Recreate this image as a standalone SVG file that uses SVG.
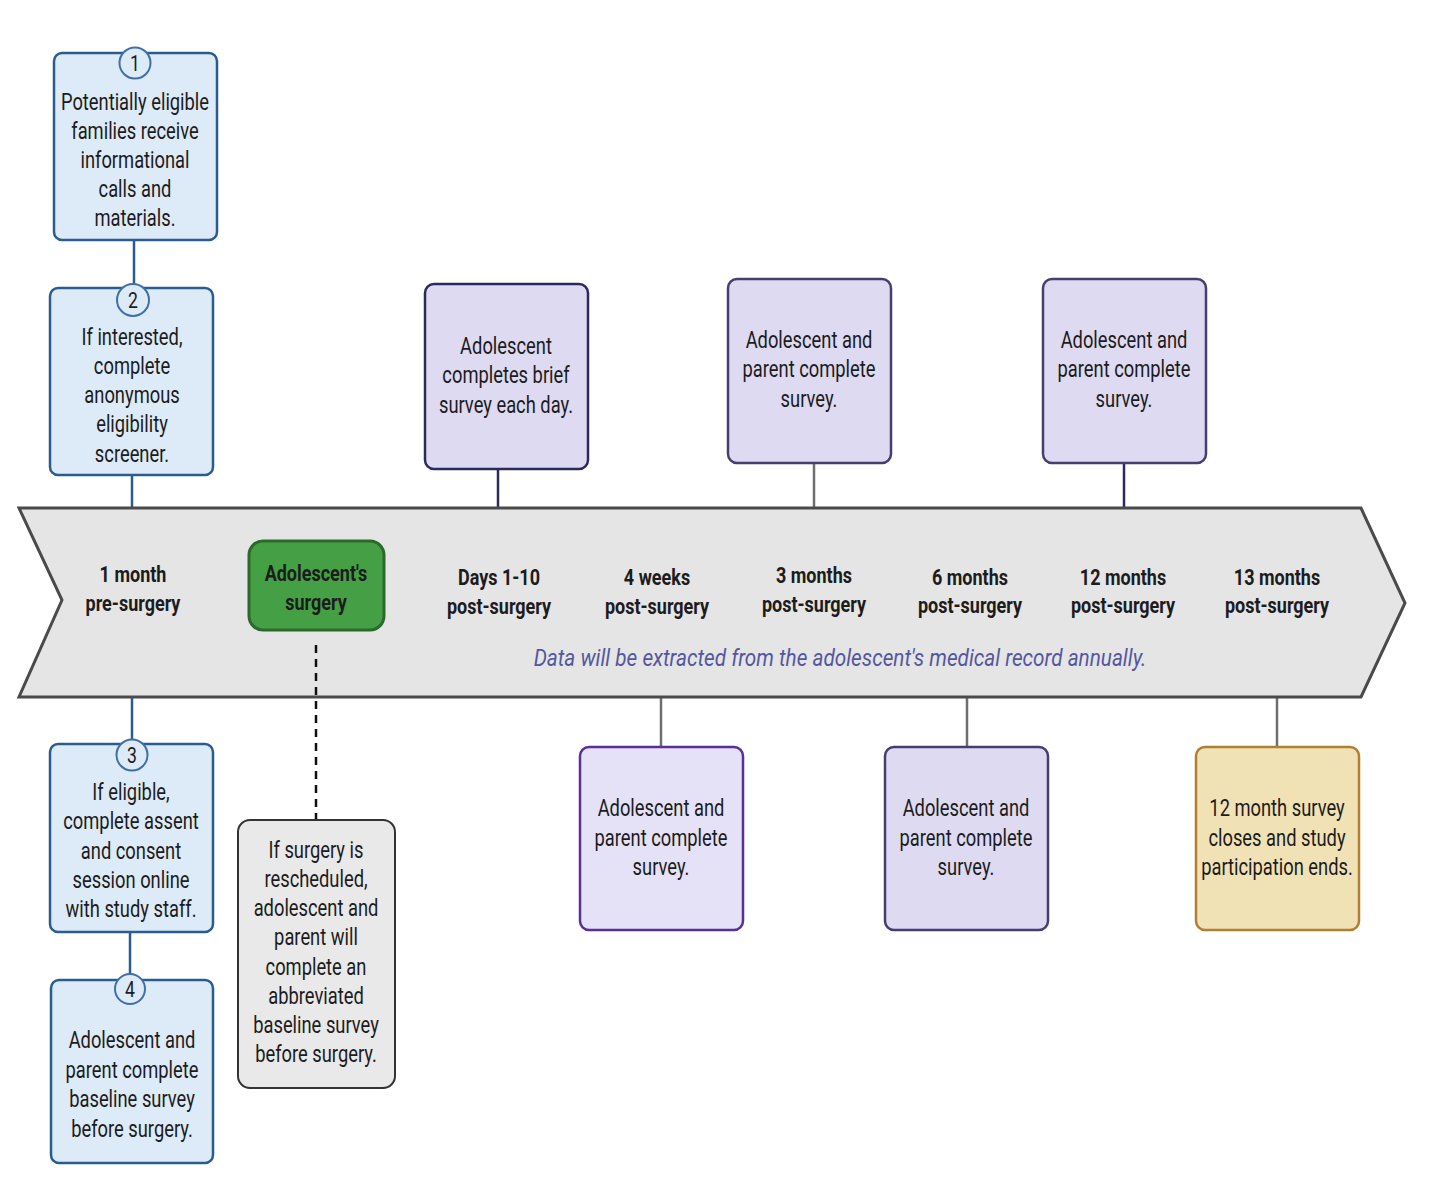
<svg xmlns="http://www.w3.org/2000/svg" width="1440" height="1188" viewBox="0 0 1440 1188">
<style>
.t{font-family:Roboto,"Noto Sans","Liberation Sans",sans-serif;font-size:23.5px;fill:#1c1c1c;text-anchor:middle}
.lb{font-family:Roboto,"Noto Sans","Liberation Sans",sans-serif;font-size:22.5px;font-weight:bold;fill:#1c1c1c;text-anchor:middle}
.num{font-family:Roboto,"Noto Sans","Liberation Sans",sans-serif;font-size:22px;fill:#1c1c1c;text-anchor:middle}
.it{font-family:Roboto,"Noto Sans","Liberation Sans",sans-serif;font-size:24px;font-style:italic;fill:#5457a0;text-anchor:middle}
.blue{fill:#ddeaf8;stroke:#2b5c8f;stroke-width:2.5}
.circ{fill:#ddeaf8;stroke:#3f6fa6;stroke-width:2}
.pa{fill:#dddaf2;stroke:#2c2a5c;stroke-width:2.5}
.pb{fill:#dddaf2;stroke:#443f70;stroke-width:2.5}
.pd{fill:#e5e2f7;stroke:#5a2f9c;stroke-width:2.5}
.yel{fill:#f1e2b6;stroke:#b07f30;stroke-width:2.5}
.gray{fill:#e9e9e9;stroke:#333;stroke-width:2}
.cb{stroke:#2b5c8f;stroke-width:2.5;fill:none}
.cg{stroke:#6e6e6e;stroke-width:2.5;fill:none}
.cn{stroke:#2c2a5c;stroke-width:2.5;fill:none}
</style>

<g id="connectors">
<line class="cb" x1="134" y1="240" x2="134" y2="288"/>
<line class="cb" x1="132" y1="475" x2="132" y2="508"/>
<line class="cb" x1="132" y1="697" x2="132" y2="744"/>
<line class="cb" x1="130" y1="932" x2="130" y2="980"/>
<line class="cn" x1="498" y1="469" x2="498" y2="508"/>
<line class="cg" x1="814" y1="463" x2="814" y2="508"/>
<line class="cn" x1="1124" y1="463" x2="1124" y2="508"/>
<line class="cg" x1="661" y1="697" x2="661" y2="747"/>
<line class="cg" x1="967" y1="697" x2="967" y2="747"/>
<line class="cg" x1="1277" y1="697" x2="1277" y2="747"/>
</g>

<g id="timeline">
<polygon points="19,508 1361,508 1405,603 1361,697 19,697 62,600" fill="#e5e5e5" stroke="#4a4a4a" stroke-width="3"/>
<text class="lb" transform="translate(133 0) scale(0.8 1)"><tspan x="0" y="582">1 month</tspan><tspan x="0" y="611">pre-surgery</tspan></text>
<text class="lb" transform="translate(499 0) scale(0.8 1)"><tspan x="0" y="585">Days 1-10</tspan><tspan x="0" y="614">post-surgery</tspan></text>
<text class="lb" transform="translate(657 0) scale(0.8 1)"><tspan x="0" y="585">4 weeks</tspan><tspan x="0" y="614">post-surgery</tspan></text>
<text class="lb" transform="translate(814 0) scale(0.8 1)"><tspan x="0" y="583">3 months</tspan><tspan x="0" y="612">post-surgery</tspan></text>
<text class="lb" transform="translate(970 0) scale(0.8 1)"><tspan x="0" y="585">6 months</tspan><tspan x="0" y="613">post-surgery</tspan></text>
<text class="lb" transform="translate(1123 0) scale(0.8 1)"><tspan x="0" y="585">12 months</tspan><tspan x="0" y="613">post-surgery</tspan></text>
<text class="lb" transform="translate(1277 0) scale(0.8 1)"><tspan x="0" y="585">13 months</tspan><tspan x="0" y="613">post-surgery</tspan></text>
<text class="it" transform="translate(840 0) scale(0.865 1)" x="0" y="666">Data will be extracted from the adolescent's medical record annually.</text>
</g>

<g id="connectors-dashed">
<line x1="316" y1="645" x2="316" y2="820" stroke="#111" stroke-width="2.5" stroke-dasharray="8 6"/>
</g>

<g id="surgery">
<rect x="249" y="541" width="135" height="89" rx="14" fill="#45a045" stroke="#2b6a2b" stroke-width="3"/>
<text class="lb" transform="translate(316 0) scale(0.8 1)"><tspan x="0" y="581">Adolescent's</tspan><tspan x="0" y="610">surgery</tspan></text>
</g>

<g id="step1">
<rect class="blue" x="54" y="53" width="163" height="187" rx="8"/>
<circle class="circ" cx="135" cy="63" r="15.5"/>
<text class="num" transform="translate(135 0) scale(0.8 1)" x="0" y="71">1</text>
<text class="t" transform="translate(135 0) scale(0.78 1)"><tspan x="0" y="110">Potentially eligible</tspan><tspan x="0" y="139">families receive</tspan><tspan x="0" y="168">informational</tspan><tspan x="0" y="197">calls and</tspan><tspan x="0" y="226">materials.</tspan></text>
</g>

<g id="step2">
<rect class="blue" x="50" y="288" width="163" height="187" rx="8"/>
<circle class="circ" cx="133" cy="300" r="16"/>
<text class="num" transform="translate(133 0) scale(0.8 1)" x="0" y="308">2</text>
<text class="t" transform="translate(132 0) scale(0.78 1)"><tspan x="0" y="345">If interested,</tspan><tspan x="0" y="374">complete</tspan><tspan x="0" y="403">anonymous</tspan><tspan x="0" y="432">eligibility</tspan><tspan x="0" y="462">screener.</tspan></text>
</g>

<g id="step3">
<rect class="blue" x="50" y="744" width="163" height="188" rx="8"/>
<circle class="circ" cx="132" cy="755" r="15.5"/>
<text class="num" transform="translate(132 0) scale(0.8 1)" x="0" y="763">3</text>
<text class="t" transform="translate(131 0) scale(0.78 1)"><tspan x="0" y="800">If eligible,</tspan><tspan x="0" y="829">complete assent</tspan><tspan x="0" y="859">and consent</tspan><tspan x="0" y="888">session online</tspan><tspan x="0" y="917">with study staff.</tspan></text>
</g>

<g id="step4">
<rect class="blue" x="51" y="980" width="162" height="183" rx="8"/>
<circle class="circ" cx="130" cy="989" r="15"/>
<text class="num" transform="translate(130 0) scale(0.8 1)" x="0" y="997">4</text>
<text class="t" transform="translate(132 0) scale(0.78 1)"><tspan x="0" y="1048">Adolescent and</tspan><tspan x="0" y="1078">parent complete</tspan><tspan x="0" y="1107">baseline survey</tspan><tspan x="0" y="1137">before surgery.</tspan></text>
</g>

<g id="reschedule">
<rect class="gray" x="238" y="820" width="157" height="268" rx="12"/>
<text class="t" transform="translate(316 0) scale(0.78 1)"><tspan x="0" y="858">If surgery is</tspan><tspan x="0" y="887">rescheduled,</tspan><tspan x="0" y="916">adolescent and</tspan><tspan x="0" y="945">parent will</tspan><tspan x="0" y="975">complete an</tspan><tspan x="0" y="1004">abbreviated</tspan><tspan x="0" y="1033">baseline survey</tspan><tspan x="0" y="1062">before surgery.</tspan></text>
</g>

<g id="days">
<rect class="pa" x="425" y="284" width="163" height="185" rx="9"/>
<text class="t" transform="translate(506 0) scale(0.78 1)"><tspan x="0" y="354">Adolescent</tspan><tspan x="0" y="383">completes brief</tspan><tspan x="0" y="413">survey each day.</tspan></text>
</g>

<g id="m3">
<rect class="pb" x="728" y="279" width="163" height="184" rx="9"/>
<text class="t" transform="translate(809 0) scale(0.78 1)"><tspan x="0" y="348">Adolescent and</tspan><tspan x="0" y="377">parent complete</tspan><tspan x="0" y="407">survey.</tspan></text>
</g>

<g id="m12">
<rect class="pb" x="1043" y="279" width="163" height="184" rx="9"/>
<text class="t" transform="translate(1124 0) scale(0.78 1)"><tspan x="0" y="348">Adolescent and</tspan><tspan x="0" y="377">parent complete</tspan><tspan x="0" y="407">survey.</tspan></text>
</g>

<g id="w4">
<rect class="pd" x="580" y="747" width="163" height="183" rx="9"/>
<text class="t" transform="translate(661 0) scale(0.78 1)"><tspan x="0" y="816">Adolescent and</tspan><tspan x="0" y="846">parent complete</tspan><tspan x="0" y="875">survey.</tspan></text>
</g>

<g id="m6">
<rect class="pb" x="885" y="747" width="163" height="183" rx="9"/>
<text class="t" transform="translate(966 0) scale(0.78 1)"><tspan x="0" y="816">Adolescent and</tspan><tspan x="0" y="846">parent complete</tspan><tspan x="0" y="875">survey.</tspan></text>
</g>

<g id="m13">
<rect class="yel" x="1196" y="747" width="163" height="183" rx="9"/>
<text class="t" transform="translate(1277 0) scale(0.78 1)"><tspan x="0" y="816">12 month survey</tspan><tspan x="0" y="846">closes and study</tspan><tspan x="0" y="875">participation ends.</tspan></text>
</g>
</svg>
